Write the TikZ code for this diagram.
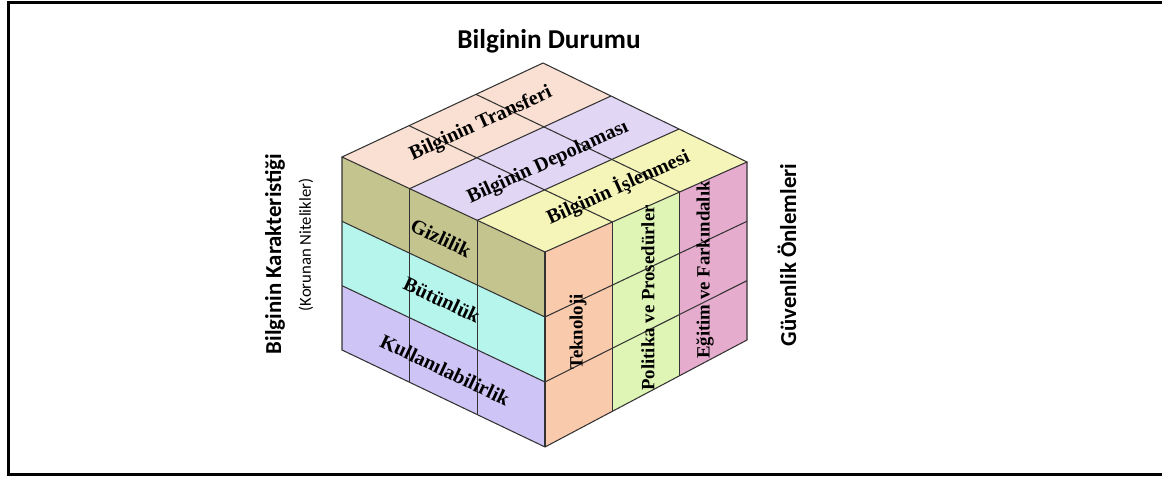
\documentclass[tikz,border=0pt]{standalone}
\usepackage{fontspec}
\setmainfont{Liberation Serif}
\newfontfamily\calibri{Carlito}
\usetikzlibrary{calc}

\definecolor{transfer}{RGB}{250,224,210}
\definecolor{depolama}{RGB}{225,215,245}
\definecolor{islenme}{RGB}{245,245,185}
\definecolor{gizlilik}{RGB}{196,196,142}
\definecolor{butunluk}{RGB}{182,245,235}
\definecolor{kullanim}{RGB}{206,196,245}
\definecolor{teknoloji}{RGB}{250,202,172}
\definecolor{politika}{RGB}{222,245,182}
\definecolor{egitim}{RGB}{230,172,206}

\tikzset{
  cubeline/.style={draw=black!80,line width=0.6pt},
  facetext/.style={font=\bfseries\fontsize{11.5}{13}\selectfont,inner sep=0pt},
  sidetext/.style={font=\bfseries\fontsize{10.7}{12}\selectfont,inner sep=0pt,rotate=90},
  axistext/.style={font=\calibri\bfseries\fontsize{13}{15}\selectfont,inner sep=0pt}
}

\begin{document}
\begin{tikzpicture}[x=0.02cm,y=-0.02cm]
  \useasboundingbox (0,0) rectangle (1162,479);
  \draw[line width=1.8pt] (1162,2.5) -- (8.5,2.5) -- (8.5,474.5) -- (1162,474.5);

  % cube corners
  \coordinate (F) at (545,252);
  \coordinate (L) at (342,157);
  \coordinate (R) at (747,162);
  \coordinate (T) at (543,63);
  \coordinate (Fb) at (545,447);
  \coordinate (Lb) at (342,350);
  \coordinate (Rb) at (747,340);

  % top face
  \foreach \k/\c in {0/islenme,1/depolama,2/transfer}
    \fill[\c] ($(F)!\k/3!(L)$) -- ($(R)!\k/3!(T)$) -- ($(R)!\k/3+1/3!(T)$) -- ($(F)!\k/3+1/3!(L)$) -- cycle;
  % left face
  \foreach \k/\c in {0/gizlilik,1/butunluk,2/kullanim}
    \fill[\c] ($(L)!\k/3!(Lb)$) -- ($(F)!\k/3!(Fb)$) -- ($(F)!\k/3+1/3!(Fb)$) -- ($(L)!\k/3+1/3!(Lb)$) -- cycle;
  % right face
  \foreach \k/\c in {0/teknoloji,1/politika,2/egitim}
    \fill[\c] ($(F)!\k/3!(R)$) -- ($(F)!\k/3+1/3!(R)$) -- ($(Fb)!\k/3+1/3!(Rb)$) -- ($(Fb)!\k/3!(Rb)$) -- cycle;

  % grid
  \foreach \k in {1,2} {
    \draw[cubeline] ($(F)!\k/3!(R)$) -- ($(L)!\k/3!(T)$);
    \draw[cubeline] ($(F)!\k/3!(L)$) -- ($(R)!\k/3!(T)$);
    \draw[cubeline] ($(L)!\k/3!(Lb)$) -- ($(F)!\k/3!(Fb)$);
    \draw[cubeline] ($(L)!\k/3!(F)$) -- ($(Lb)!\k/3!(Fb)$);
    \draw[cubeline] ($(F)!\k/3!(Fb)$) -- ($(R)!\k/3!(Rb)$);
    \draw[cubeline] ($(F)!\k/3!(R)$) -- ($(Fb)!\k/3!(Rb)$);
  }
  \draw[cubeline] (F) -- (L) -- (T) -- (R) -- cycle;
  \draw[cubeline] (L) -- (Lb) -- (Fb) -- (Rb) -- (R);
  \draw[cubeline] (F) -- (Fb);

  % labels on the cube
  \node[facetext,rotate=24.5] (transferi) at (481,124) {Bilginin Transferi};
  \node[facetext,rotate=24.5] (depolamasi) at (548,163) {Bilginin Depolaması};
  \node[facetext,rotate=24.5] (islenmesi) at (618,187) {Bilginin İşlenmesi};
  \node[facetext,rotate=-25.3] (gizlilik) at (441,238) {Gizlilik};
  \node[facetext,rotate=-25.3] (butunluk) at (442,300) {Bütünlük};
  \node[facetext,rotate=-25.3] (kullanilabilirlik) at (445,370) {Kullanılabilirlik};
  \node[sidetext] (teknoloji) at (578,332) {Teknoloji};
  \node[sidetext] (politika) at (648,298) {Politika ve Prosedürler};
  \node[sidetext] (egitim) at (705,270) {Eğitim ve Farkındalık};

  % axis titles
  \node[axistext,font=\calibri\bfseries\fontsize{15.5}{18}\selectfont] (durum) at (549,41) {Bilginin Durumu};
  \node[axistext,rotate=90] (karakter) at (275,254) {Bilginin Karakteristiği};
  \node[rotate=90,inner sep=0pt,font=\calibri\fontsize{9.5}{11}\selectfont] (nitelik) at (306,245) {(Korunan Nitelikler)};
  \node[axistext,rotate=90] (onlem) at (787,255) {Güvenlik Önlemleri};
\end{tikzpicture}
\end{document}
